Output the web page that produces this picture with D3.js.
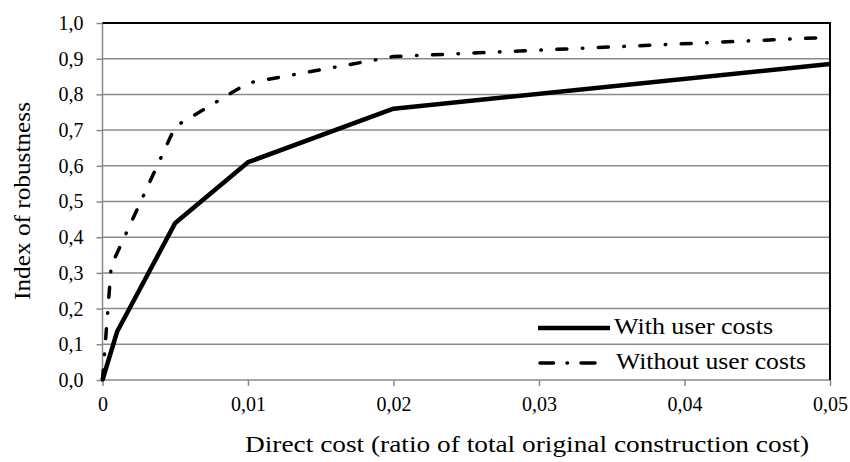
<!DOCTYPE html>
<html>
<head>
<meta charset="utf-8">
<script src="https://cdn.jsdelivr.net/npm/d3@7"></script>
<style>
  body { margin: 0; background: #fff; }
</style>
</head>
<body>
<svg id="chart"></svg>
<script>
// data
let costWith = [0, 0.001, 0.005, 0.01, 0.02, 0.05],
    robWith = [0, 0.135, 0.44, 0.61, 0.76, 0.885];
let costWithout = [0, 0.0006, 0.005, 0.01, 0.02, 0.05],
    robWithout = [0, 0.32, 0.71, 0.832, 0.906, 0.96];
let xTicks = [0, 0.01, 0.02, 0.03, 0.04, 0.05],
    yTicks = [0, 0.1, 0.2, 0.3, 0.4, 0.5, 0.6, 0.7, 0.8, 0.9, 1.0];
let seriesNames = ["With user costs", "Without user costs"];

let width = 850,
    height = 462,
    margin = { top: 23, right: 20, bottom: 82, left: 102.5 },
    serif = "Liberation Serif";

let svg = d3.select("#chart").attr("width", width).attr("height", height);

let x = d3.scaleLinear().domain([0, 0.05]).range([margin.left, width - margin.right]);
let y = d3.scaleLinear().domain([0, 1]).range([height - margin.bottom, margin.top]);

let comma = function (d, digits) { return d3.format("." + digits + "f")(d).replace(".", ","); };

// grid
svg.append("g")
    .selectAll("line")
    .data(yTicks.slice(1, -1))
    .enter().append("line")
    .attr("x1", x(0)).attr("x2", x(0.05))
    .attr("y1", function (d) { return y(d); })
    .attr("y2", function (d) { return y(d); })
    .attr("stroke", "#8a8a8a")
    .attr("stroke-width", 1.5);

// axes
let xAxis = svg.append("g")
    .attr("transform", "translate(0," + y(0) + ")")
    .call(d3.axisBottom(x).tickValues(xTicks).tickSize(6).tickPadding(11)
        .tickFormat(function (d) { return d == 0 ? "0" : comma(d, 2); }));
let yAxis = svg.append("g")
    .attr("transform", "translate(" + x(0) + ",0)")
    .call(d3.axisLeft(y).tickValues(yTicks).tickSize(6).tickPadding(13)
        .tickFormat(function (d) { return comma(d, 1); }));

[xAxis, yAxis].forEach(function (a) {
    a.attr("font-family", null).attr("font-size", null);
    a.select(".domain").attr("stroke", "#8a8a8a").attr("stroke-width", 1.5);
    a.selectAll(".tick line").attr("stroke", "#8a8a8a").attr("stroke-width", 1.5);
    a.selectAll(".tick text")
        .attr("fill", "#000")
        .style("font-family", serif)
        .style("font-size", "20px");
});
xAxis.select(".domain").attr("d", "M" + x(0) + ",0H" + x(0.05));
yAxis.select(".domain").attr("d", "M0," + y(0) + "V" + y(1));

// top and right frame
svg.append("path")
    .attr("d", "M" + x(0) + "," + y(1) + "H" + x(0.05) + "V" + y(0))
    .attr("fill", "none")
    .attr("stroke", "#000")
    .attr("stroke-width", 2);

// lines
let line = d3.line()
    .x(function (d) { return x(d[0]); })
    .y(function (d) { return y(d[1]); });

svg.append("path")
    .datum(d3.zip(costWith, robWith))
    .attr("d", line)
    .attr("fill", "none")
    .attr("stroke", "#000")
    .attr("stroke-width", 4.5)
    .attr("stroke-linejoin", "round");

svg.append("path")
    .datum(d3.zip(costWithout, robWithout))
    .attr("d", line)
    .attr("fill", "none")
    .attr("stroke", "#000")
    .attr("stroke-width", 3.5)
    .attr("stroke-linecap", "round")
    .attr("stroke-dasharray", "10,15.5,0.5,15.5");

// legend
let legendText = [159, 192]; // text widths in the reference
seriesNames.forEach(function (name, i) {
    let ly = 328 + i * 35;
    svg.append("line")
        .attr("x1", i == 0 ? 538 : 540).attr("x2", i == 0 ? 610 : 595)
        .attr("y1", ly).attr("y2", ly)
        .attr("stroke", "#000")
        .attr("stroke-width", i == 0 ? 4.5 : 3.5)
        .attr("stroke-linecap", i == 0 ? "butt" : "round")
        .attr("stroke-dasharray", i == 0 ? null : "13.5,13.5,0.5,13.5,14");
    svg.append("text")
        .attr("x", i == 0 ? 614 : 616).attr("y", ly + 6)
        .attr("textLength", legendText[i] - (i == 0 ? 0 : 2))
        .attr("lengthAdjust", "spacingAndGlyphs")
        .style("font-family", serif)
        .style("font-size", "23px")
        .text(name);
});

// axis titles
svg.append("text")
    .attr("x", 527).attr("y", 452)
    .attr("text-anchor", "middle")
    .attr("textLength", 564)
    .attr("lengthAdjust", "spacingAndGlyphs")
    .style("font-family", serif)
    .style("font-size", "24px")
    .text("Direct cost (ratio of total original construction cost)");

svg.append("text")
    .attr("transform", "translate(30,201) rotate(-90)")
    .attr("text-anchor", "middle")
    .attr("textLength", 198)
    .attr("lengthAdjust", "spacingAndGlyphs")
    .style("font-family", serif)
    .style("font-size", "24px")
    .text("Index of robustness");
</script>
</body>
</html>
